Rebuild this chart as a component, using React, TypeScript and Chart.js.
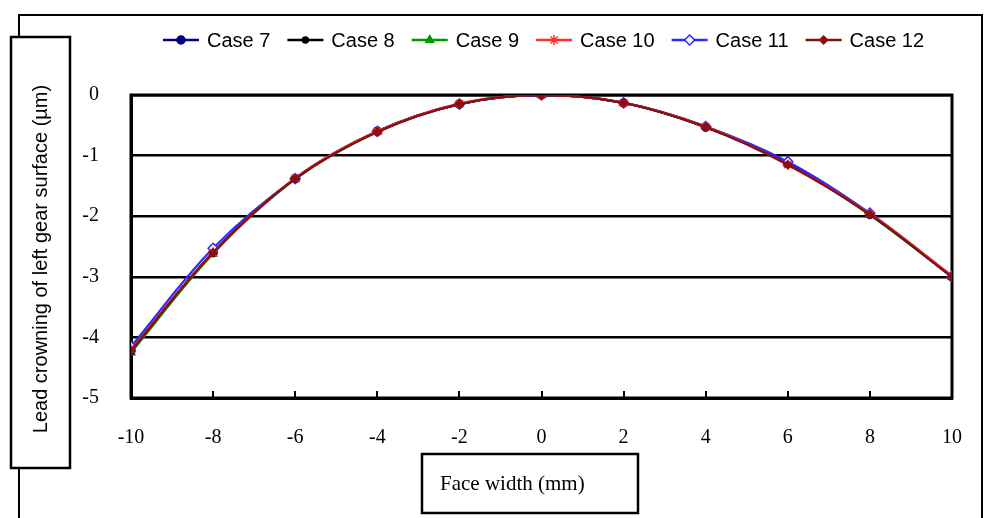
import React, { useEffect, useRef } from 'react';
import { Chart, registerables } from 'chart.js';
import { drawPoint } from 'chart.js/helpers';

Chart.register(...registerables);

// Face width positions (mm)
const faceWidth = [-10, -8, -6, -4, -2, 0, 2, 4, 6, 8, 10];

// Lead crowning of the left gear surface (µm) for each case
const case7 = [-4.22, -2.6, -1.38, -0.6, -0.15, 0, -0.13, -0.53, -1.13, -1.97, -3.0];
const case8 = [-4.2, -2.6, -1.38, -0.6, -0.15, 0, -0.13, -0.53, -1.13, -1.97, -3.0];
const case9 = [-4.25, -2.62, -1.39, -0.61, -0.15, 0, -0.13, -0.52, -1.13, -1.98, -3.0];
const case10 = [-4.2, -2.6, -1.37, -0.6, -0.14, 0, -0.13, -0.52, -1.15, -1.96, -2.98];
const case11 = [-4.15, -2.53, -1.38, -0.6, -0.15, 0, -0.13, -0.52, -1.1, -1.95, -3.0];
const case12 = [-4.22, -2.6, -1.38, -0.61, -0.15, 0, -0.13, -0.53, -1.15, -1.97, -3.0];

const caseNames = ['Case 7', 'Case 8', 'Case 9', 'Case 10', 'Case 11', 'Case 12'];
const caseValues = [case7, case8, case9, case10, case11, case12];

const yMin = -5;
const yMax = 0;
const xMin = -10;
const xMax = 10;

const xTitle = 'Face width (mm)';
const yTitle = 'Lead crowning of left gear surface (\u00b5m)';

// Per-series look: line colour, marker and drawing order (lower = on top)
const seriesStyle = [
  { color: '#000080', fill: '#000080', pointStyle: 'circle', radius: 4, order: 3 },
  { color: '#000000', fill: '#000000', pointStyle: 'circle', radius: 3, order: 5 },
  { color: '#009900', fill: '#009900', pointStyle: 'triangle', radius: 4.5, order: 4 },
  { color: '#ff3030', fill: '#ff3030', pointStyle: 'star', radius: 5, order: 1 },
  { color: '#2a2aff', fill: '#ffffff', pointStyle: 'rectRot', radius: 5, order: 2 },
  { color: '#8b0f0f', fill: '#8b0f0f', pointStyle: 'rectRot', radius: 4, order: 0 },
];

const framePlugin = {
  id: 'frameAndTitles',
  beforeDraw(chart: any) {
    const ctx = chart.ctx as CanvasRenderingContext2D;
    const { width, height } = chart;
    ctx.save();
    ctx.fillStyle = '#ffffff';
    ctx.fillRect(0, 0, width, height);

    // outer frame
    ctx.strokeStyle = '#000000';
    ctx.lineWidth = 2;
    ctx.beginPath();
    ctx.moveTo(19, height);
    ctx.lineTo(19, 15);
    ctx.lineTo(982, 15);
    ctx.lineTo(982, height);
    ctx.stroke();

    // y title box
    ctx.fillStyle = '#ffffff';
    ctx.fillRect(11, 37, 59, 431);
    ctx.lineWidth = 2.5;
    ctx.strokeRect(11, 37, 59, 431);
    ctx.fillStyle = '#000000';
    ctx.font = '20px "Liberation Sans", Arial, sans-serif';
    ctx.textAlign = 'center';
    ctx.textBaseline = 'middle';
    ctx.save();
    ctx.translate(41, 259);
    ctx.rotate(-Math.PI / 2);
    ctx.fillText(yTitle, 0, 0);
    ctx.restore();

    // x title box
    ctx.fillStyle = '#ffffff';
    ctx.fillRect(422, 454, 216, 59);
    ctx.strokeRect(422, 454, 216, 59);
    ctx.fillStyle = '#000000';
    ctx.font = '21px "Liberation Serif", "Times New Roman", serif';
    ctx.textAlign = 'left';
    ctx.fillText(xTitle, 440, 484);
    ctx.restore();
  },
  beforeDatasetsDraw(chart: any) {
    const ctx = chart.ctx as CanvasRenderingContext2D;
    const a = chart.chartArea;
    const xScale = chart.scales.x;
    ctx.save();
    ctx.strokeStyle = '#000000';
    ctx.lineWidth = 3;
    ctx.strokeRect(a.left, a.top, a.right - a.left, a.bottom - a.top);
    // short inward tick marks on the bottom axis
    ctx.lineWidth = 2;
    ctx.beginPath();
    xScale.ticks.forEach((t: any) => {
      const px = Math.round(xScale.getPixelForValue(t.value));
      ctx.moveTo(px, a.bottom);
      ctx.lineTo(px, a.bottom - 7);
    });
    ctx.stroke();
    ctx.restore();
  },
  afterDraw(chart: any) {
    const ctx = chart.ctx as CanvasRenderingContext2D;
    ctx.save();
    ctx.font = '20px "Liberation Sans", Arial, sans-serif';
    ctx.textAlign = 'left';
    ctx.textBaseline = 'middle';
    let x = 163;
    const y = 40;
    chart.data.datasets.forEach((ds: any, i: number) => {
      const st = seriesStyle[i];
      ctx.strokeStyle = st.color;
      ctx.lineWidth = 2.5;
      ctx.beginPath();
      ctx.moveTo(x, y);
      ctx.lineTo(x + 36, y);
      ctx.stroke();
      ctx.fillStyle = st.fill;
      ctx.strokeStyle = st.color;
      ctx.lineWidth = 1.5;
      drawPoint(ctx, { pointStyle: st.pointStyle, radius: st.radius, rotation: 0, borderWidth: 1.5 } as any, x + 18, y);
      ctx.fillStyle = '#000000';
      const label = ds.label as string;
      ctx.fillText(label, x + 44, y + 1);
      x += 44 + ctx.measureText(label).width + 17;
    });
    ctx.restore();
  },
};

export default function App() {
  const canvasRef = useRef<HTMLCanvasElement | null>(null);

  useEffect(() => {
    document.body.style.margin = '0';
    const canvas = canvasRef.current;
    if (!canvas) return;

    const datasets = caseNames.map((name, i) => {
      const st = seriesStyle[i];
      return {
        label: name,
        data: faceWidth.map((fw, j) => ({ x: fw, y: caseValues[i][j] })),
        borderColor: st.color,
        backgroundColor: st.fill,
        borderWidth: 2.2,
        pointStyle: st.pointStyle as any,
        pointRadius: st.radius,
        pointBorderWidth: 1.5,
        pointBorderColor: st.color,
        pointBackgroundColor: st.fill,
        tension: 0.35,
        order: st.order,
      };
    });

    const chart = new Chart(canvas, {
      type: 'line',
      data: { datasets },
      options: {
        animation: false,
        responsive: false,
        maintainAspectRatio: false,
        devicePixelRatio: 1,
        layout: { padding: { left: 0, top: 95, right: 35, bottom: 0 } },
        plugins: {
          legend: { display: false },
          tooltip: { enabled: false },
          title: { display: false },
        },
        scales: {
          x: {
            type: 'linear',
            min: xMin,
            max: xMax,
            afterFit: (scale: any) => {
              scale.height = 120;
              scale.paddingLeft = 0;
              scale.paddingRight = 0;
            },
            ticks: {
              stepSize: 2,
              padding: 28,
              maxRotation: 0,
              color: '#000000',
              font: { family: '"Liberation Serif", "Times New Roman", serif', size: 20 },
            },
            grid: {
              display: false,
              drawTicks: false,
            },
            border: { display: true, color: '#000000', width: 3 },
          },
          y: {
            type: 'linear',
            min: yMin,
            max: yMax,
            afterFit: (scale: any) => {
              scale.width = 131;
            },
            ticks: {
              stepSize: 1,
              padding: 32,
              color: '#000000',
              font: { family: '"Liberation Serif", "Times New Roman", serif', size: 20 },
            },
            grid: {
              drawTicks: false,
              color: '#000000',
              lineWidth: 2.5,
            },
            border: { display: true, color: '#000000', width: 3 },
          },
        },
      },
      plugins: [framePlugin],
    });

    return () => {
      chart.destroy();
    };
  }, []);

  return (
    <div style={{ width: 987, height: 518 }}>
      <canvas ref={canvasRef} width={987} height={518} style={{ display: 'block' }} />
    </div>
  );
}
